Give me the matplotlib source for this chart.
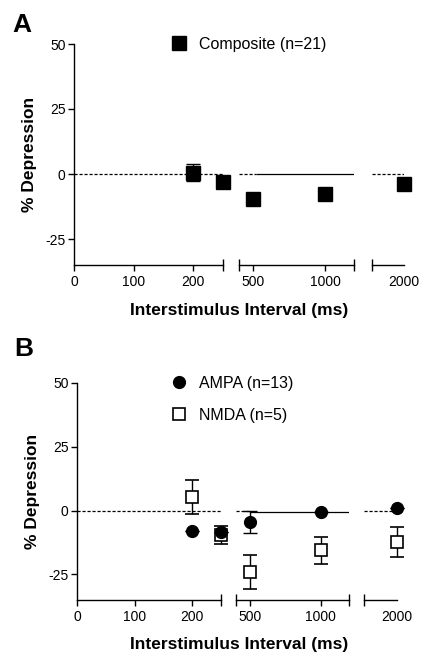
import matplotlib
matplotlib.use("Agg")
import matplotlib.pyplot as plt

plt.rcParams["font.family"] = ["Liberation Sans", "DejaVu Sans"]

# interstimulus intervals (ms)
isi = [200, 250, 500, 1000, 2000]

# panel A: composite
composite = [0.5, -3.0, -9.7, -7.7, -3.8]
composite_err = [3.3, 0.0, 0.0, 0.0, 0.0]

# panel B: AMPA and NMDA
ampa = [-8.0, -8.4, -4.5, -0.5, 1.2]
ampa_err = [0.0, 0.0, 4.2, 0.0, 0.0]
nmda = [5.5, -9.7, -24.0, -15.6, -12.3]
nmda_err = [6.7, 3.5, 6.5, 5.3, 6.0]

# broken x-axis segments
segments = [(0, 250), (400, 1200), (1800, 2000)]
seg_ticks = [[0, 100, 200], [500, 1000], [2000]]
yticks = [50, 25, 0, -25]


def make_panel(fig, rect_px, letter, letter_xy, xlabel_y):
    H, W = 656, 421
    top, bottom = rect_px["top"], rect_px["bottom"]
    axes = []
    for (x0, x1) in rect_px["cols"]:
        ax = fig.add_axes([x0 / W, 1 - bottom / H, (x1 - x0) / W, (bottom - top) / H])
        ax.set_ylim(-35, 50)
        ax.patch.set_alpha(0)
        for s in ["top", "right"]:
            ax.spines[s].set_visible(False)
        ax.spines["bottom"].set_linewidth(1.0)
        ax.spines["left"].set_linewidth(1.0)
        axes.append(ax)

    for i, ax in enumerate(axes):
        lo, hi = segments[i]
        ax.set_xlim(lo, hi)
        ax.set_xticks(seg_ticks[i])
        ax.set_xticklabels([str(t) for t in seg_ticks[i]], fontsize=10)
        ends = [hi] if i == 0 else ([lo, hi] if i == 1 else [lo])
        ax.set_xticks(ends, minor=True)
        ax.tick_params(axis="x", which="major", direction="out", length=4, width=1, pad=3)
        ax.tick_params(axis="x", which="minor", direction="inout", length=8, width=1)
        if i == 2:
            ax.tick_params(axis="x", which="major", length=0, pad=7)
        if i == 0:
            ax.set_yticks(yticks)
            ax.set_yticklabels([str(t) for t in yticks], fontsize=10)
            ax.tick_params(axis="y", direction="out", length=4, width=1, pad=2)
            ax.spines["left"].set_bounds(-35, 50)
        else:
            ax.spines["left"].set_visible(False)
            ax.set_yticks([])

    fig.text(letter_xy[0] / W, 1 - letter_xy[1] / H, letter, fontsize=19,
             fontweight="bold", ha="left", va="center")
    yl = axes[0]
    yl.set_ylabel("% Depression", fontsize=12.5, fontweight="bold", labelpad=6)
    fig.text(239 / W, 1 - xlabel_y / H, "Interstimulus Interval (ms)", fontsize=12.5,
             fontweight="bold", ha="center", va="center")
    return axes


fig = plt.figure(figsize=(4.21, 6.56), dpi=100)

# ---- panel A ----
axA = make_panel(fig, {"top": 44, "bottom": 265, "cols": [(74, 223), (239, 354), (372, 404)]},
                 "A", (12, 25), 310)
axA[0].hlines(0, 0, 250, colors="black", linestyles=(0, (2.5, 1.5)), linewidth=0.9)
axA[1].hlines(0, 400, 520, colors="black", linestyles=(0, (2.5, 1.5)), linewidth=0.9)
axA[1].hlines(0, 520, 1200, colors="black", linestyles="-", linewidth=0.9)
axA[2].hlines(0, 1800, 2000, colors="black", linestyles=(0, (2.5, 1.5)), linewidth=0.9)

for i, ax in enumerate(axA):
    lo, hi = segments[i]
    xs = [x for x in isi if lo <= x <= hi]
    idx = [isi.index(x) for x in xs]
    ax.errorbar(xs, [composite[j] for j in idx], yerr=[composite_err[j] for j in idx],
                fmt="s", color="black", markersize=9.5, capsize=5, elinewidth=1,
                capthick=1, clip_on=False, zorder=5)

hA = axA[0].plot([], [], "s", color="black", markersize=9.5, label="Composite (n=21)")[0]
fig.legend(handles=[hA], loc="center left", bbox_to_anchor=(167 / 421, 1 - 44 / 656),
           frameon=False, fontsize=11.5, handletextpad=0.5, handlelength=1.5,
           borderpad=0, borderaxespad=0)

# ---- panel B ----
axB = make_panel(fig, {"top": 383, "bottom": 600, "cols": [(77, 221), (236, 349), (364, 397)]},
                 "B", (14, 349), 644)
axB[0].hlines(0, 0, 250, colors="black", linestyles=(0, (2.5, 1.5)), linewidth=0.9)
axB[1].hlines(0, 400, 500, colors="black", linestyles=(0, (2.5, 1.5)), linewidth=0.9)
axB[1].hlines(-0.5, 500, 1200, colors="black", linestyles="-", linewidth=0.9)
axB[2].hlines(0, 1800, 2000, colors="black", linestyles=(0, (2.5, 1.5)), linewidth=0.9)

for i, ax in enumerate(axB):
    lo, hi = segments[i]
    xs = [x for x in isi if lo <= x <= hi]
    idx = [isi.index(x) for x in xs]
    ax.errorbar(xs, [nmda[j] for j in idx], yerr=[nmda_err[j] for j in idx],
                fmt="s", color="black", mfc="white", mec="black", mew=1.2,
                markersize=9, capsize=5, elinewidth=1, capthick=1, clip_on=False, zorder=5)
    ax.errorbar(xs, [ampa[j] for j in idx], yerr=[ampa_err[j] for j in idx],
                fmt="o", color="black", markersize=8.5, capsize=5, elinewidth=1,
                capthick=1, clip_on=False, zorder=6)

hB1 = axB[0].plot([], [], "o", color="black", markersize=8.5, label="AMPA (n=13)")[0]
hB2 = axB[0].plot([], [], "s", color="black", mfc="white", mew=1.2, markersize=9,
                  label="NMDA (n=5)")[0]
fig.legend(handles=[hB1, hB2], loc="upper left", bbox_to_anchor=(167 / 421, 1 - 376 / 656),
           frameon=False, fontsize=11.5, handletextpad=0.5, handlelength=1.5,
           labelspacing=1.05, borderpad=0, borderaxespad=0)

fig.savefig("out.png", dpi=100)
